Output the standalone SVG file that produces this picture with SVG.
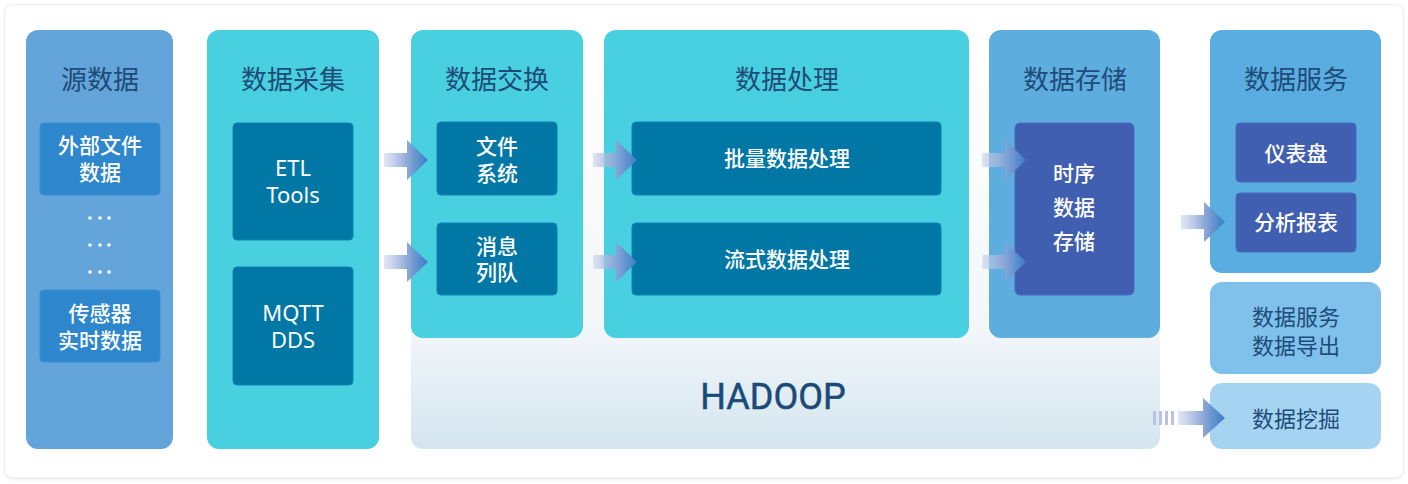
<svg xmlns="http://www.w3.org/2000/svg" width="1408" height="484" viewBox="0 0 1408 484">
<defs>
<style>
.t{font-family:"Noto Sans CJK SC","Noto Sans",sans-serif;fill:#1e4b78;font-size:26px;text-anchor:middle;dominant-baseline:central}
.w{font-family:"Noto Sans CJK SC","Noto Sans",sans-serif;fill:#ffffff;font-size:21px;font-weight:500;text-anchor:middle;dominant-baseline:central}
.d{font-family:"Noto Sans CJK SC","Noto Sans",sans-serif;fill:#1e4b78;font-size:22px;text-anchor:middle;dominant-baseline:central}
.e{font-family:"Noto Sans","Liberation Sans",sans-serif;fill:#ffffff;font-size:22px;text-anchor:middle;dominant-baseline:central}
.cyan{fill:#48cfe0}
.teal{fill:#0177a6;stroke:#0a86b3;stroke-width:1}
.indigo{fill:#415fb1;stroke:#4a6bbb;stroke-width:1}
.blue{fill:#2e86cc;stroke:#3b8fd0;stroke-width:1}
</style>
<linearGradient id="hg" x1="0" y1="0" x2="0" y2="1">
<stop offset="0" stop-color="#ffffff"/>
<stop offset="0.7" stop-color="#f3f7fa"/>
<stop offset="1" stop-color="#d4e5ef"/>
</linearGradient>
<linearGradient id="ag" x1="0" y1="0" x2="1" y2="0">
<stop offset="0" stop-color="#cdd5ec" stop-opacity="0.6"/>
<stop offset="0.5" stop-color="#8ea6d6" stop-opacity="0.95"/>
<stop offset="1" stop-color="#377ec6"/>
</linearGradient>
<path id="arr" d="M0,-7 L23,-7 L23,-20 L44,0 L23,20 L23,7 L0,7 Z" fill="url(#ag)"/>
<filter id="sh" x="-5%" y="-5%" width="110%" height="115%">
<feDropShadow dx="0" dy="1.5" stdDeviation="1.5" flood-color="#000" flood-opacity="0.08"/>
</filter>
</defs>

<rect x="4.5" y="4.5" width="1399" height="473" rx="9" fill="#ffffff" stroke="#eceef1" stroke-width="1" filter="url(#sh)"/>

<g id="hadoop">
<rect x="411" y="30" width="749" height="419" rx="12" fill="url(#hg)"/>
<text x="773" y="397" font-family="Roboto,'Liberation Sans',sans-serif" font-size="36" fill="#1a4a78" stroke="#1a4a78" stroke-width="0.5" text-anchor="middle" dominant-baseline="central">HADOOP</text>
</g>

<g id="source">
<rect x="26" y="30" width="147" height="419" rx="12" fill="#63a4da"/>
<text class="t" x="100" y="77">源数据</text>
<rect class="blue" x="40" y="123" width="120" height="72" rx="4"/>
<text class="w" x="100" y="144">外部文件<tspan x="100" dy="27">数据</tspan></text>
<g fill="#ffffff">
<circle cx="90" cy="218" r="1.8"/><circle cx="100" cy="218" r="1.8"/><circle cx="109" cy="218" r="1.8"/>
<circle cx="90" cy="245" r="1.8"/><circle cx="100" cy="245" r="1.8"/><circle cx="109" cy="245" r="1.8"/>
<circle cx="90" cy="272" r="1.8"/><circle cx="100" cy="272" r="1.8"/><circle cx="109" cy="272" r="1.8"/>
</g>
<rect class="blue" x="40" y="290" width="120" height="72" rx="4"/>
<text class="w" x="100" y="312">传感器<tspan x="100" dy="27">实时数据</tspan></text>
</g>

<g id="collect">
<rect class="cyan" x="207" y="30" width="172" height="419" rx="12"/>
<text class="t" x="293" y="77">数据采集</text>
<rect class="teal" x="233" y="123" width="120" height="117" rx="4"/>
<text class="e" x="293" y="167">ETL<tspan x="293" dy="27">Tools</tspan></text>
<rect class="teal" x="233" y="267" width="120" height="118" rx="4"/>
<text class="e" x="293" y="312">MQTT<tspan x="293" dy="27">DDS</tspan></text>
</g>

<g id="exchange">
<rect class="cyan" x="411" y="30" width="172" height="308" rx="12"/>
<text class="t" x="497" y="77">数据交换</text>
<rect class="teal" x="437" y="122" width="120" height="73" rx="4"/>
<text class="w" x="497" y="145">文件<tspan x="497" dy="27">系统</tspan></text>
<rect class="teal" x="437" y="223" width="120" height="72" rx="4"/>
<text class="w" x="497" y="245">消息<tspan x="497" dy="26">列队</tspan></text>
</g>

<g id="process">
<rect class="cyan" x="604" y="30" width="365" height="308" rx="12"/>
<text class="t" x="787" y="77">数据处理</text>
<rect class="teal" x="632" y="122" width="309" height="73" rx="4"/>
<text class="w" x="787" y="157">批量数据处理</text>
<rect class="teal" x="632" y="223" width="309" height="72" rx="4"/>
<text class="w" x="787" y="258">流式数据处理</text>
</g>

<g id="storage">
<rect x="989" y="30" width="171" height="308" rx="12" fill="#5eaddf"/>
<text class="t" x="1075" y="77">数据存储</text>
<rect class="indigo" x="1015" y="123" width="119" height="172" rx="5"/>
<text class="w" x="1074" y="172">时序<tspan x="1074" dy="34">数据</tspan><tspan x="1074" dy="34">存储</tspan></text>
</g>

<g id="service">
<rect x="1210" y="30" width="171" height="243" rx="12" fill="#5aade0"/>
<text class="t" x="1296" y="77">数据服务</text>
<rect class="indigo" x="1236" y="123" width="120" height="59" rx="4"/>
<text class="w" x="1296" y="152">仪表盘</text>
<rect class="indigo" x="1236" y="193" width="120" height="59" rx="4"/>
<text class="w" x="1296" y="221">分析报表</text>
</g>

<g id="export">
<rect x="1210" y="282" width="171" height="92" rx="12" fill="#80c1eb"/>
<text class="d" x="1296" y="315">数据服务<tspan x="1296" dy="29">数据导出</tspan></text>
</g>

<g id="mining">
<rect x="1210" y="383" width="171" height="66" rx="12" fill="#a5d4f3"/>
<text class="d" x="1296" y="417">数据挖掘</text>
</g>

<g id="connectors">
<use href="#arr" x="384" y="160"/>
<use href="#arr" x="384" y="262"/>
<use href="#arr" x="593" y="160"/>
<use href="#arr" x="593" y="262"/>
<use href="#arr" x="982" y="160"/>
<use href="#arr" x="982" y="262"/>
<use href="#arr" x="1181" y="222"/>
<g fill="#b9c3e6">
<rect x="1153" y="411" width="3" height="14"/>
<rect x="1159" y="411" width="3" height="14"/>
<rect x="1165" y="411" width="3" height="14"/>
<rect x="1171" y="411" width="3" height="14"/>
</g>
<path d="M1178,411 L1203,411 L1203,398 L1225,418 L1203,438 L1203,425 L1178,425 Z" fill="url(#ag)"/>
</g>
</svg>
